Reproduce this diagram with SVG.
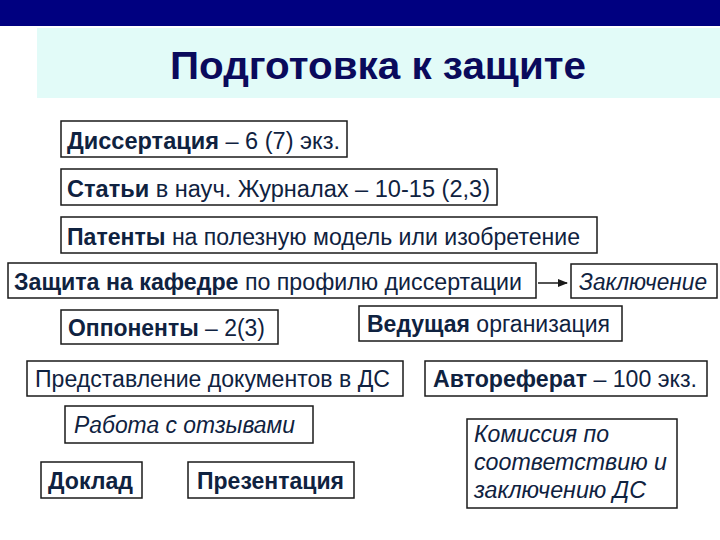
<svg xmlns="http://www.w3.org/2000/svg" width="720" height="540" viewBox="0 0 720 540">
<style>
.box{fill:#ffffff;stroke:#1a1a1a;stroke-width:1.5}
.t{font-family:"Liberation Sans",Arial,sans-serif;font-size:23px;fill:#0f2240}
.b{font-weight:bold}
.i{font-style:italic}
.title{font-family:"Liberation Sans",Arial,sans-serif;font-size:38px;font-weight:bold;fill:#0a0a5c}
.con{stroke:#1a1a1a;stroke-width:1.5;fill:none}
</style>
<defs>
<marker id="ah" markerWidth="10" markerHeight="8" refX="9" refY="4" orient="auto" markerUnits="userSpaceOnUse">
<path d="M0,0 L10,4 L0,8 z" fill="#1a1a1a"/>
</marker>
</defs>
<rect x="0" y="0" width="720" height="26" fill="#000080"/>
<rect x="37" y="28" width="683" height="70" fill="#e2fbf8"/>
<text class="title" x="170" y="79" textLength="416" lengthAdjust="spacingAndGlyphs">Подготовка к защите</text>

<g id="n1"><rect class="box" x="61" y="121" width="286" height="36"/>
<text class="t" x="67" y="149" textLength="273" lengthAdjust="spacingAndGlyphs"><tspan class="b">Диссертация</tspan> – 6 (7) экз.</text></g>
<g id="n2"><rect class="box" x="61" y="169" width="436" height="36"/>
<text class="t" x="67" y="197" textLength="423" lengthAdjust="spacingAndGlyphs"><tspan class="b">Статьи</tspan> в науч. Журналах – 10-15 (2,3)</text></g>
<g id="n3"><rect class="box" x="61" y="217" width="536" height="36"/>
<text class="t" x="67" y="245" textLength="513" lengthAdjust="spacingAndGlyphs"><tspan class="b">Патенты</tspan> на полезную модель или изобретение</text></g>
<g id="n4"><rect class="box" x="8" y="263" width="528" height="35"/>
<text class="t" x="14" y="290" textLength="508" lengthAdjust="spacingAndGlyphs"><tspan class="b">Защита на кафедре</tspan> по профилю диссертации</text></g>
<g id="n5"><rect class="box" x="571" y="264" width="146" height="34"/>
<text class="t i" x="579" y="290" textLength="128" lengthAdjust="spacingAndGlyphs">Заключение</text></g>
<g id="n6"><rect class="box" x="61" y="310" width="217" height="34"/>
<text class="t" x="68" y="336" textLength="197" lengthAdjust="spacingAndGlyphs"><tspan class="b">Оппоненты</tspan>  – 2(3)</text></g>
<g id="n7"><rect class="box" x="359" y="306" width="263" height="35"/>
<text class="t" x="367" y="332" textLength="243" lengthAdjust="spacingAndGlyphs"><tspan class="b">Ведущая</tspan> организация</text></g>
<g id="n8"><rect class="box" x="27" y="361" width="376" height="35"/>
<text class="t" x="35" y="387" textLength="355" lengthAdjust="spacingAndGlyphs">Представление документов в ДС</text></g>
<g id="n9"><rect class="box" x="425" y="361" width="282" height="35"/>
<text class="t" x="433" y="387" textLength="264" lengthAdjust="spacingAndGlyphs"><tspan class="b">Автореферат</tspan> – 100 экз.</text></g>
<g id="n10"><rect class="box" x="65" y="406" width="248" height="37"/>
<text class="t i" x="74" y="433" textLength="221" lengthAdjust="spacingAndGlyphs">Работа с отзывами</text></g>
<g id="n11"><rect class="box" x="467" y="419" width="210" height="89"/>
<text class="t i" x="474" y="442" textLength="135" lengthAdjust="spacingAndGlyphs">Комиссия по</text>
<text class="t i" x="474" y="470" textLength="193" lengthAdjust="spacingAndGlyphs">соответствию и</text>
<text class="t i" x="474" y="498" textLength="172" lengthAdjust="spacingAndGlyphs">заключению ДС</text></g>
<g id="n12"><rect class="box" x="41" y="462" width="101" height="36"/>
<text class="t b" x="48" y="489" textLength="85" lengthAdjust="spacingAndGlyphs">Доклад</text></g>
<g id="n13"><rect class="box" x="188" y="462" width="166" height="36"/>
<text class="t b" x="197" y="489" textLength="147" lengthAdjust="spacingAndGlyphs">Презентация</text></g>

<g id="connectors">
<line class="con" x1="538" y1="283" x2="567" y2="283" marker-end="url(#ah)"/>
</g>
</svg>
